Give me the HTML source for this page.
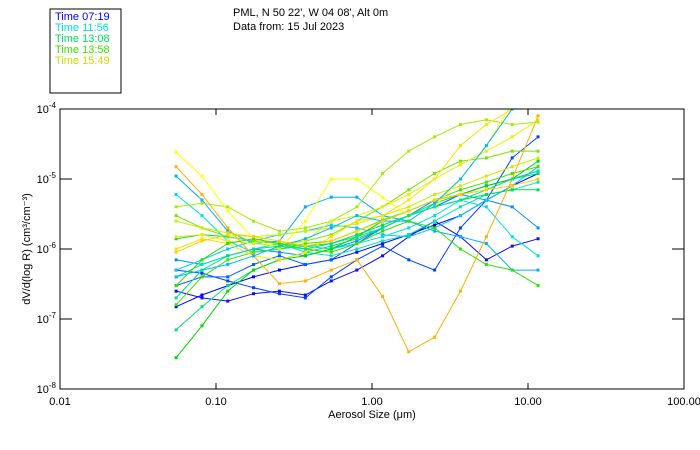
<!DOCTYPE html>
<html><head><meta charset="utf-8"><style>
body{margin:0;background:#fff;}
svg{display:block;font-family:"Liberation Sans",sans-serif;}
</style></head><body>
<svg id="chart" width="700" height="450">
<rect x="50" y="9" width="71" height="84" fill="none" stroke="#000" stroke-width="1"/>
<g font-size="11">
<text x="55" y="20" fill="#0000ff">Time 07:19</text>
<text x="55" y="31" fill="#00e0e0">Time 11:56</text>
<text x="55" y="42" fill="#00e060">Time 13:08</text>
<text x="55" y="53" fill="#40e000">Time 13:58</text>
<text x="55" y="64" fill="#c8e000">Time 15:49</text>
</g>
<text x="233" y="16" font-size="11">PML, N 50 22', W 04 08', Alt 0m</text>
<text x="233" y="30" font-size="11">Data from: 15 Jul 2023</text>
<g id="plot"></g>
<text x="372" y="418" font-size="11" text-anchor="middle">Aerosol Size (μm)</text>
<text transform="translate(30,249) rotate(-90)" font-size="11" text-anchor="middle">dV/d(log R) (cm³/cm⁻³)</text>
</svg>
<script>
const sizes=[0.0555,0.0813,0.119,0.174,0.255,0.374,0.548,0.80,1.17,1.72,2.52,3.69,5.41,7.92,11.6];
const xTicks=[0.01,0.1,1,10,100];
const xTickLabels=["0.01","0.10","1.00","10.00","100.00"];
const yTicks=[1e-4,1e-5,1e-6,1e-7,1e-8];
const yTickExps=["-4","-5","-6","-7","-8"];
const seriesColors=["#0000ff","#1010e8","#0040ff","#0060ff","#0090ff","#00b0ff","#00c8ff","#00e0e0","#00e8b0","#00e070","#00e040","#00d800","#40e000","#70e800","#a0f000","#c8f000","#e8f000","#ffff00","#ffe000","#ffb000","#00b8ff","#30e000","#00e090","#ffd000"];
const s0=[1.5e-7,2.2e-7,3e-7,4e-7,5e-7,6e-7,7e-7,9e-7,1.2e-6,1.6e-6,2.2e-6,3e-6,5e-6,8e-6,1.2e-5];
const s1=[2.5e-7,2e-7,1.8e-7,2.3e-7,2.5e-7,2.2e-7,3.5e-7,5e-7,8e-7,1.5e-6,2.5e-6,1.5e-6,7e-7,1.1e-6,1.4e-6];
const s2=[5e-7,4.5e-7,3.5e-7,2.8e-7,2.3e-7,2e-7,4e-7,7e-7,1.1e-6,7e-7,5e-7,2e-6,5e-6,2e-5,4e-5];
const s3=[3e-7,4e-7,4e-7,6e-7,8e-7,6e-7,7e-7,1.2e-6,2e-6,3e-6,4e-6,6e-6,8e-6,1e-5,1.3e-5];
const s4=[7e-7,6e-7,8e-7,1e-6,9e-7,8e-7,1e-6,1.3e-6,2e-6,3e-6,5e-6,6e-6,5e-6,4e-6,2e-6];
const s5=[1.1e-5,5e-6,1.8e-6,1.2e-6,1.3e-6,4e-6,5.5e-6,5.5e-6,3e-6,2.5e-6,1.8e-6,1.5e-6,1.2e-6,5e-7,5e-7];
const s6=[5e-7,7e-7,1e-6,1.3e-6,1.6e-6,1.8e-6,2.2e-6,2e-6,1.6e-6,1.5e-6,2e-6,3e-6,5e-6,8e-6,1.5e-5];
const s7=[6e-6,3e-6,1.3e-6,9e-7,1e-6,1.1e-6,1e-6,1.2e-6,1.5e-6,2e-6,3e-6,5e-6,4e-6,1.5e-6,8e-7];
const s8=[4e-7,6e-7,8e-7,1e-6,1.2e-6,9e-7,8e-7,1e-6,1.3e-6,1.6e-6,2.5e-6,4e-6,6e-6,7e-6,9e-6];
const s9=[7e-8,1.5e-7,3e-7,5e-7,7e-7,9e-7,1.1e-6,1.4e-6,2e-6,3e-6,4.5e-6,6e-6,8e-6,1e-5,1.2e-5];
const s10=[1.4e-6,1.6e-6,1.5e-6,1.3e-6,1.2e-6,1.1e-6,1.2e-6,1.6e-6,2.2e-6,3e-6,4e-6,5e-6,6e-6,7e-6,7e-6];
const s11=[2.8e-8,8e-8,2.5e-7,5e-7,7e-7,8e-7,1e-6,1.5e-6,2.5e-6,3.5e-6,5e-6,6e-6,8e-6,1e-5,1.8e-5];
const s12=[1.6e-7,4e-7,7e-7,9e-7,1e-6,1.2e-6,1.3e-6,1.8e-6,2.6e-6,3.5e-6,5e-6,7e-6,9e-6,1.2e-5,1.5e-5];
const s13=[3e-6,2e-6,1.5e-6,1.3e-6,1.2e-6,1.3e-6,1.6e-6,2.5e-6,4e-6,7e-6,1.2e-5,1.8e-5,2e-5,2.5e-5,2.5e-5];
const s14=[4e-6,4.5e-6,4e-6,2.5e-6,1.8e-6,2e-6,2.5e-6,4e-6,1.2e-5,2.5e-5,4e-5,6e-5,7e-5,6e-5,6.5e-5];
const s15=[2.5e-6,2e-6,1.7e-6,1.5e-6,1.6e-6,1.8e-6,2e-6,2.3e-6,3e-6,4e-6,6e-6,8e-6,1.1e-5,1.5e-5,2e-5];
const s16=[1.5e-6,1.6e-6,1.3e-6,1.2e-6,1.1e-6,1.3e-6,2.5e-6,3e-6,4e-6,6e-6,1e-5,1.6e-5,2.5e-5,4e-5,7e-5];
const s17=[2.4e-5,1.1e-5,3.5e-6,1.4e-6,1e-6,2.5e-6,1e-5,1e-5,5.5e-6,3e-6,4e-6,1e-5,3e-5,1.2e-4,2e-4];
const s18=[1e-6,1.4e-6,1.2e-6,8e-7,7e-7,9e-7,1.5e-6,2.5e-6,3e-6,5e-6,1e-5,3e-5,6e-5,1e-4,1.5e-4];
const s19=[1.5e-5,6e-6,2e-6,8e-7,3.2e-7,3.5e-7,5e-7,7e-7,2.1e-7,3.4e-8,5.5e-8,2.5e-7,1.5e-6,1e-5,8e-5];
const s20=[4e-7,5e-7,6e-7,8e-7,1.1e-6,1.4e-6,2e-6,3e-6,2.5e-6,2.5e-6,4.5e-6,1e-5,3e-5,1e-4,2e-4];
const s21=[3e-7,7e-7,1.2e-6,1.4e-6,1.2e-6,1e-6,9e-7,1.2e-6,1.8e-6,2.5e-6,2e-6,1e-6,6e-7,5e-7,3e-7];
const s22=[2e-7,5e-7,8e-7,1e-6,1.1e-6,1e-6,1.2e-6,1.5e-6,2e-6,3e-6,4e-6,5e-6,7e-6,1e-5,1.3e-5];
const s23=[9e-7,1.3e-6,1.6e-6,1.5e-6,1.3e-6,1.1e-6,1.3e-6,1.8e-6,2.5e-6,3.5e-6,5e-6,6e-6,7e-6,8e-6,1e-5];
const allSeries=[s0,s1,s2,s3,s4,s5,s6,s7,s8,s9,s10,s11,s12,s13,s14,s15,s16,s17,s18,s19,s20,s21,s22,s23];

const L=60,R=684,T=109,B=389;
const xs=v=>L+(Math.log10(v)+2)*(R-L)/4;
const ys=v=>B-(Math.log10(v)+8)*(B-T)/4;
const NS="http://www.w3.org/2000/svg";
const plot=document.getElementById('plot');
function mk(tag,attrs,parent){const e=document.createElementNS(NS,tag);for(const k in attrs)e.setAttribute(k,attrs[k]);(parent||plot).appendChild(e);return e;}

const clip=mk('clipPath',{id:'pc'});
mk('rect',{x:L,y:T,width:R-L,height:B-T},clip);
const lines=mk('g',{'clip-path':'url(#pc)'});


allSeries.forEach((s,i)=>{
  const c=seriesColors[i%seriesColors.length];
  const pts=s.map((v,j)=>xs(sizes[j]).toFixed(1)+','+ys(v).toFixed(1)).join(' ');
  const pl=mk('polyline',{points:pts,fill:'none',stroke:c,'stroke-width':1},lines);
  
  
  s.forEach((v,j)=>{
    const r=mk('rect',{x:xs(sizes[j])-1.5,y:ys(v)-1.5,width:3,height:3,fill:c},lines);
    
    
  });
});
const frame=mk('rect',{x:L,y:T,width:R-L,height:B-T,fill:'none',stroke:'#000','stroke-width':1});


xTicks.forEach((v,i)=>{
  const x=xs(v);
  const t1=mk('line',{x1:x,x2:x,y1:B,y2:B-6,stroke:'#000'});
  
  
  const t2=mk('line',{x1:x,x2:x,y1:T,y2:T+6,stroke:'#000'});
  
  
  const tx=mk('text',{x:x,y:B+16,'font-size':11,'text-anchor':'middle'});
  tx.textContent=xTickLabels[i];
  
  
});
yTicks.forEach((v,i)=>{
  const y=ys(v);
  const t1=mk('line',{x1:L,x2:L+12,y1:y,y2:y,stroke:'#000'});
  
  
  const t2=mk('line',{x1:R,x2:R-12,y1:y,y2:y,stroke:'#000'});
  
  
  const tx=mk('text',{x:L-4,y:y+4,'font-size':11,'text-anchor':'end'});
  
  
  const a=document.createElementNS(NS,'tspan');a.textContent='10';tx.appendChild(a);
  const b=document.createElementNS(NS,'tspan');b.setAttribute('dy','-5');b.setAttribute('font-size','8');b.textContent=yTickExps[i];tx.appendChild(b);
});
</script>
</body></html>
